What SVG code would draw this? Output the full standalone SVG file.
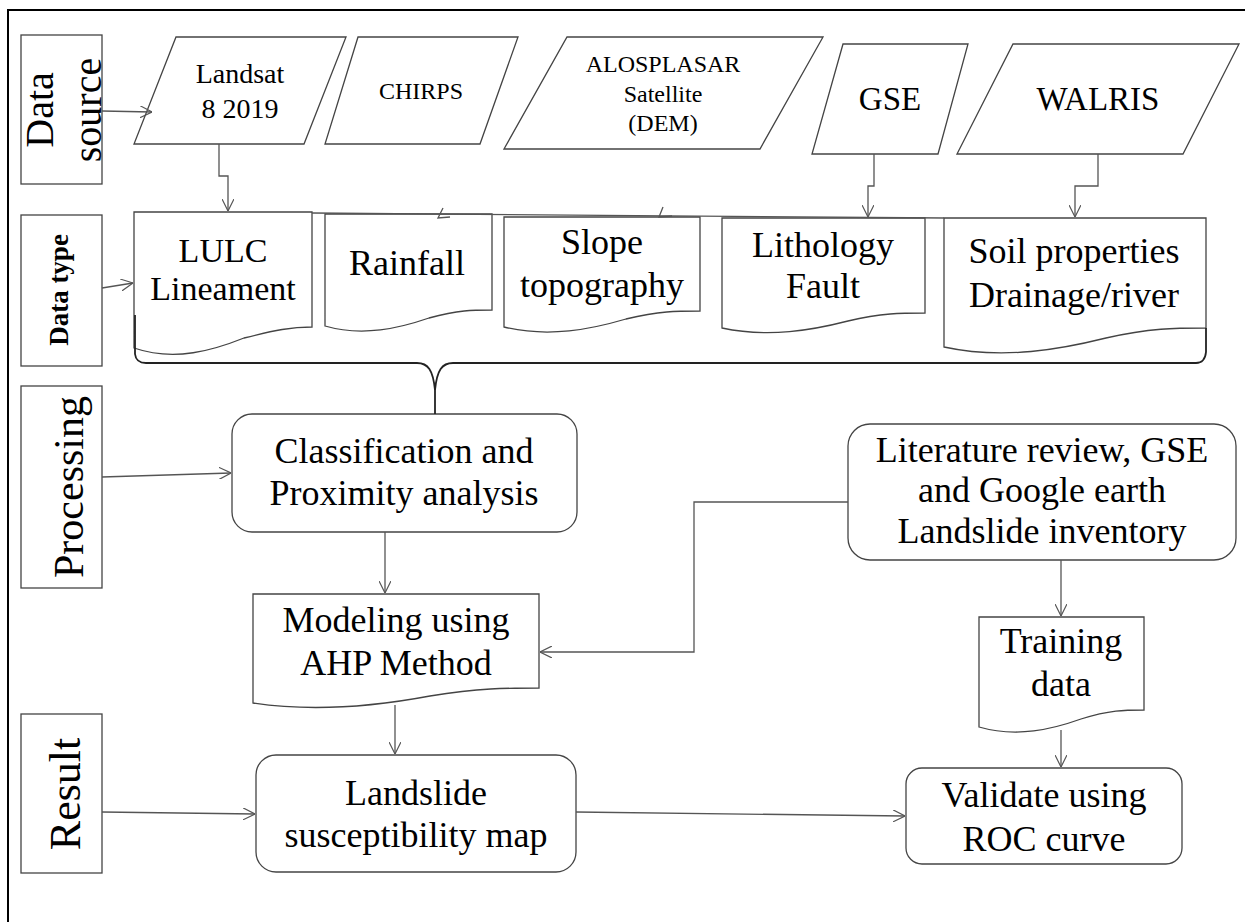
<svg xmlns="http://www.w3.org/2000/svg" width="1245" height="922" viewBox="0 0 1245 922">
<style>
.b{fill:#fff;stroke:#444;stroke-width:1.3}
.t{font-family:"Liberation Serif","Times New Roman",serif;fill:#000;text-anchor:middle}
.c{fill:none;stroke:#555;stroke-width:1.3}
.br{fill:none;stroke:#222;stroke-width:1.8}
</style>
<defs>
<marker id="a" viewBox="0 0 12 12" refX="12" refY="6" markerWidth="12" markerHeight="12" markerUnits="userSpaceOnUse" orient="auto">
<path d="M0,0 L12,6 L0,12" fill="none" stroke="#555" stroke-width="1.2"/>
</marker>
</defs>
<rect width="1245" height="922" fill="#fff"/>
<path d="M8,922 V10 H1245" fill="none" stroke="#000" stroke-width="2"/>

<g id="lbl-datasource"><rect class="b" x="21" y="35" width="81" height="149"/>
<text class="t" font-size="40" transform="translate(53,110) rotate(-90)">Data</text>
<text class="t" font-size="40" transform="translate(101,110) rotate(-90)">source</text></g>
<g id="lbl-datatype"><rect class="b" x="21" y="215" width="81" height="151"/>
<text class="t" font-size="27" font-weight="bold" transform="translate(68,290) rotate(-90)">Data type</text></g>
<g id="lbl-processing"><rect class="b" x="21" y="386" width="81" height="202"/>
<text class="t" font-size="42" transform="translate(83,487) rotate(-90)">Processing</text></g>
<g id="lbl-result"><rect class="b" x="21" y="714" width="81" height="159"/>
<text class="t" font-size="44" transform="translate(80,794) rotate(-90)">Result</text></g>

<g id="landsat"><polygon class="b" points="176,37 346,37 304,144 134,144"/>
<text class="t" font-size="28" x="240" y="83">Landsat</text><text class="t" font-size="28" x="240" y="118">8 2019</text></g>
<g id="chirps"><polygon class="b" points="358,37 518,37 480,144 325,144"/>
<text class="t" font-size="24" x="421" y="99">CHIRPS</text></g>
<g id="alos"><polygon class="b" points="567,37 823,37 760,149 504,149"/>
<text class="t" font-size="24" x="663" y="72">ALOSPLASAR</text><text class="t" font-size="24" x="663" y="102">Satellite</text><text class="t" font-size="24" x="663" y="131">(DEM)</text></g>
<g id="gse"><polygon class="b" points="843,44 968,44 938,154 812,154"/>
<text class="t" font-size="33" x="890" y="110">GSE</text></g>
<g id="walris"><polygon class="b" points="1013,44 1239,44 1183,154 957,154"/>
<text class="t" font-size="33" x="1098" y="110">WALRIS</text></g>

<g id="lulc"><path class="b" d="M134,212 H312 V327 C291,327 276,330 244,338 C214,350 175,362 134,348 Z"/>
<text class="t" font-size="34" x="223" y="262">LULC</text><text class="t" font-size="34" x="223" y="300">Lineament</text></g>
<g id="rainfall"><path class="b" d="M325,214 H492 V310 C472,310 459,310 429,318 C400,328 363,337 325,326 Z"/>
<text class="t" font-size="36" x="407" y="275">Rainfall</text></g>
<g id="slope"><path class="b" d="M504,217 H700 V311 C676,311 660,311 626,319 C592,329 549,338 504,327 Z"/>
<text class="t" font-size="36" x="602" y="254">Slope</text><text class="t" font-size="36" x="602" y="297">topography</text></g>
<g id="lithology"><path class="b" d="M722,218 H925 V313 C901,313 882,313 848,321 C813,330 769,338 722,328 Z"/>
<text class="t" font-size="36" x="823" y="257">Lithology</text><text class="t" font-size="36" x="823" y="298">Fault</text></g>
<g id="soil"><path class="b" d="M944,218 H1206 V328 C1175,328 1150,328 1106,338 C1062,349 1004,360 944,347 Z"/>
<text class="t" font-size="36" x="1074" y="263">Soil properties</text><text class="t" font-size="36" x="1074" y="307">Drainage/river</text></g>

<g id="classification"><rect class="b" x="232" y="414" width="345" height="118" rx="20"/>
<text class="t" font-size="36" x="404" y="463">Classification and</text><text class="t" font-size="36" x="404" y="505">Proximity analysis</text></g>
<g id="literature"><rect class="b" x="848" y="424" width="388" height="136" rx="22"/>
<text class="t" font-size="36" x="1042" y="462">Literature review, GSE</text><text class="t" font-size="36" x="1042" y="502">and Google earth</text><text class="t" font-size="36" x="1042" y="543">Landslide inventory</text></g>
<g id="modeling"><path class="b" d="M253,594 H539 V688 C505,688 480,688 430,696 C382,705 319,713 253,703 Z"/>
<text class="t" font-size="36" x="396" y="632">Modeling using</text><text class="t" font-size="36" x="396" y="675">AHP Method</text></g>
<g id="training"><path class="b" d="M979,617 H1144 V710 C1124,710 1110,710 1081,719 C1053,729 1017,738 979,727 Z"/>
<text class="t" font-size="36" x="1061" y="653">Training</text><text class="t" font-size="36" x="1061" y="696">data</text></g>
<g id="landslide"><rect class="b" x="256" y="755" width="320" height="117" rx="20"/>
<text class="t" font-size="36" x="416" y="805">Landslide</text><text class="t" font-size="36" x="416" y="847">susceptibility map</text></g>
<g id="validate"><rect class="b" x="906" y="768" width="276" height="96" rx="16"/>
<text class="t" font-size="36" x="1044" y="807">Validate using</text><text class="t" font-size="36" x="1044" y="851">ROC curve</text></g>

<g id="connectors">
<path class="c" d="M102,111 L152,112" marker-end="url(#a)"/>
<path class="c" d="M219,144 V176 H228 V211" marker-end="url(#a)"/>
<path class="c" d="M874,154 V186 H868 V217" marker-end="url(#a)"/>
<path class="c" d="M1098,154 V186 H1075 V217" marker-end="url(#a)"/>
<path class="c" d="M312,213 L944,218"/>
<path class="c" d="M443,208 L438,218 L450,217"/>
<path class="c" d="M663,207 L659,217 L672,216"/>
<path class="c" d="M102,288 L133,283" marker-end="url(#a)"/>
<path class="br" d="M135,315 V354 Q136,363 146,363 H417 C428,363 433,370 435,390 C437,370 442,363 453,363 H1196 Q1205,363 1206,352 V328"/>
<path class="br" d="M435,388 V414"/>
<path class="c" d="M102,477 L231,473" marker-end="url(#a)"/>
<path class="c" d="M385,532 V593" marker-end="url(#a)"/>
<path class="c" d="M848,502 H694 V652 H540" marker-end="url(#a)"/>
<path class="c" d="M1061,560 V616" marker-end="url(#a)"/>
<path class="c" d="M395,705 V754" marker-end="url(#a)"/>
<path class="c" d="M1061,730 V767" marker-end="url(#a)"/>
<path class="c" d="M102,812 L255,814" marker-end="url(#a)"/>
<path class="c" d="M576,812 L905,816" marker-end="url(#a)"/>
</g>
</svg>
